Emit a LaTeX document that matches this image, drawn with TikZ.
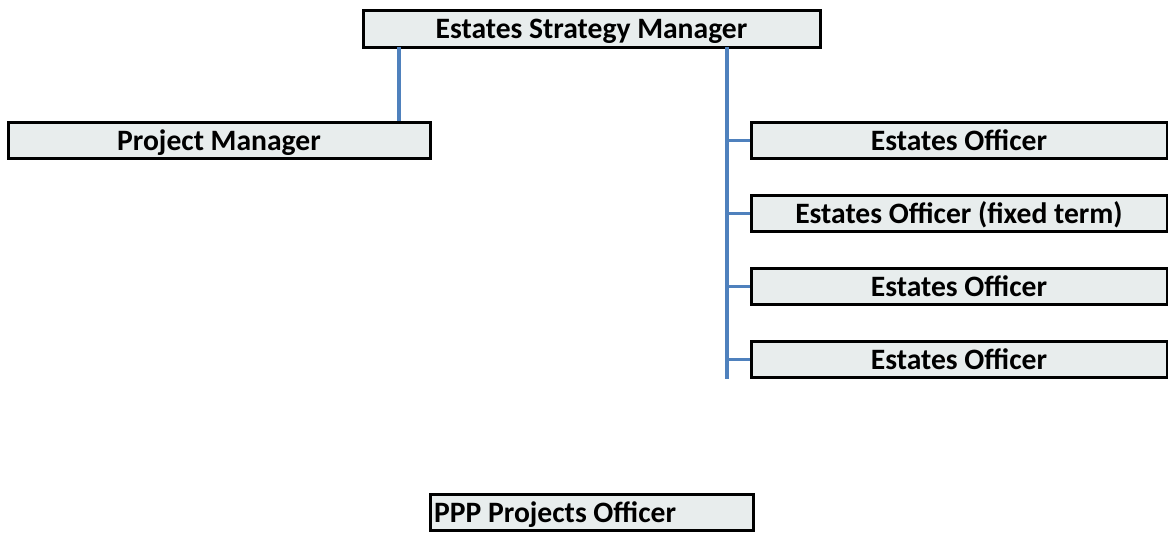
\documentclass[tikz,border=0pt]{standalone}
\usepackage{fontspec}
\setmainfont{Carlito}
\definecolor{boxgray}{HTML}{E8EDED}
\definecolor{linkblue}{HTML}{4F81BD}
\begin{document}
\begin{tikzpicture}[
        x=0.75pt, y=-0.75pt,
        font=\bfseries\fontsize{22.2}{26}\selectfont,
        post/.style ={draw, line width=2.25pt, fill=boxgray, inner sep=0pt, minimum height=27.5pt, text height=14.3pt, text depth=0pt},
        link/.style ={draw=linkblue, line width=2.6pt},
    ]
    \useasboundingbox (0,0) rectangle (1168,534);
    \node[post, minimum width=342.75pt] (esm) at (591.5,29) {Estates Strategy Manager};
    \node[post, minimum width=316.5pt] (pm) at (219,140.5) {Project Manager};
    \node[post, minimum width=312pt] (eo1) at (959,140.5) {Estates Officer};
    \node[post, minimum width=312pt] (eo2) at (959,213.5) {Estates Officer (fixed term)};
    \node[post, minimum width=312pt] (eo3) at (959,286.5) {Estates Officer};
    \node[post, minimum width=312pt] (eo4) at (959,359.5) {Estates Officer};
    \node[post, minimum width=242.25pt] (ppp) at (591.5,512.5) {\makebox[236pt][l]{PPP Projects Officer}};

    % reporting lines
    \coordinate (left) at (399,47);
    \coordinate (trunk) at (727,47);
    \path[link] (left) -- (left |- pm.north);
    \path[link] (trunk) -- (trunk |- eo4.south);
    \foreach \n in {eo1,eo2,eo3,eo4}
        \path[link] (trunk |- \n) -- (\n.west);
\end{tikzpicture}
\end{document}
